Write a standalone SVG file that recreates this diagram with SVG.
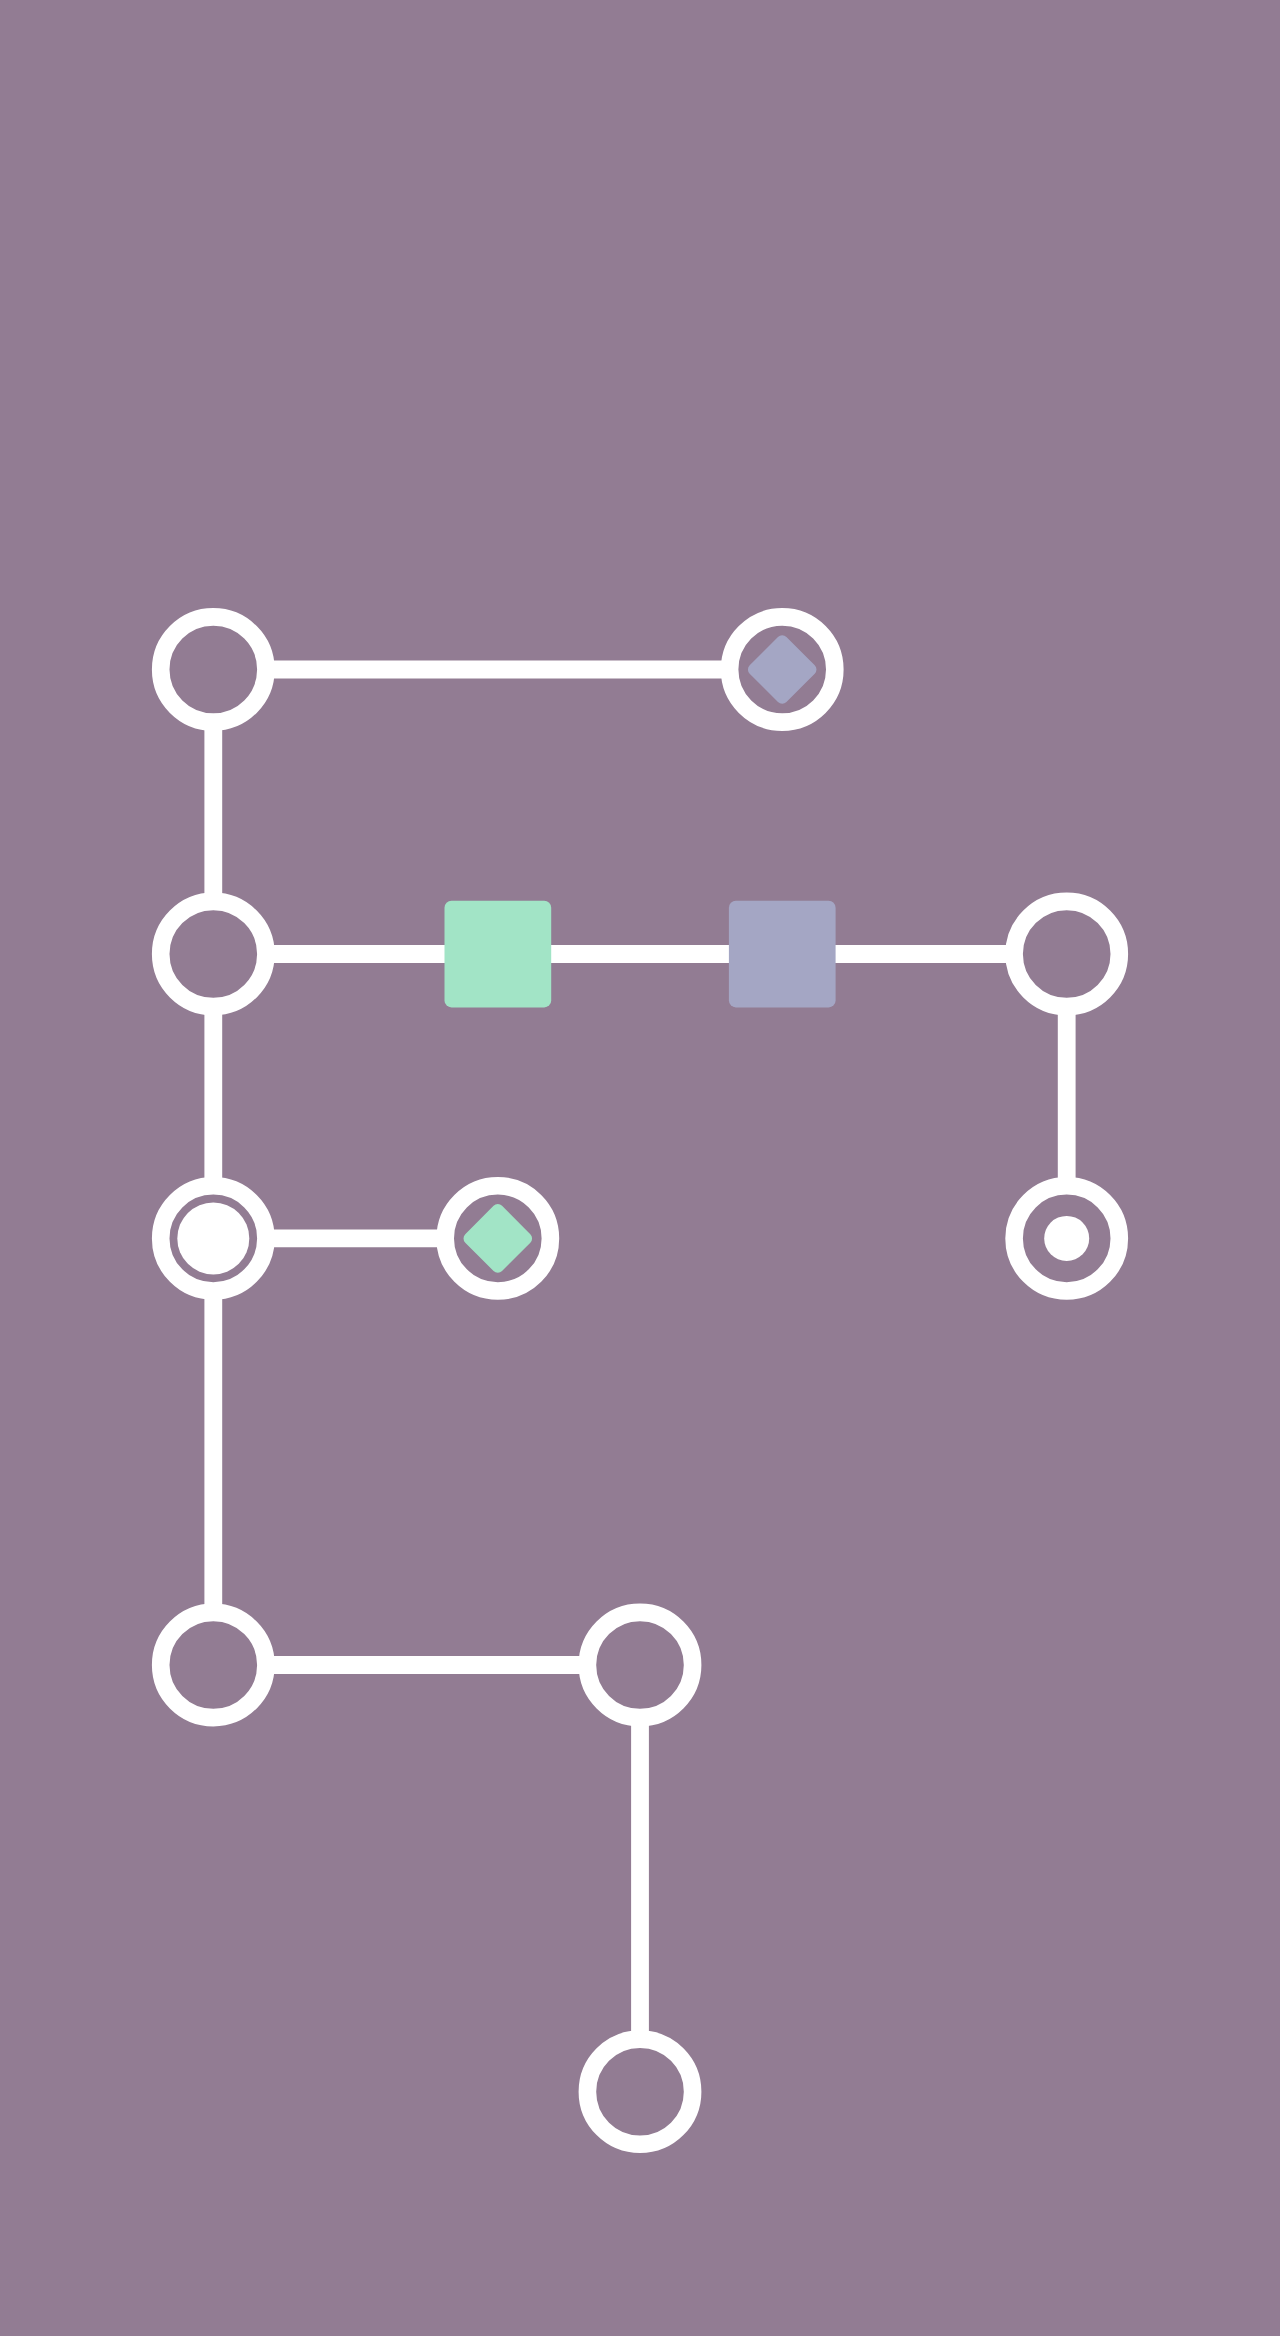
<svg xmlns="http://www.w3.org/2000/svg" width="1280" height="2336" viewBox="0 0 1280 2336">
  <style>
    .edge { stroke: #FFFFFF; stroke-width: 17.8; fill: none; stroke-linecap: butt; }
    .ring { stroke: #FFFFFF; stroke-width: 17.6; fill: #927C93; }
    .dot { fill: #FFFFFF; }
    .green { fill: #A2E4C6; }
    .lav { fill: #A4A6C4; }
  </style>
  <rect x="0" y="0" width="1280" height="2336" fill="#927C93"/>
  <g id="connectors">
    <line class="edge" x1="213.3" y1="669.5" x2="782.2" y2="669.5"/>
    <line class="edge" x1="213.3" y1="669.5" x2="213.3" y2="954"/>
    <line class="edge" x1="213.3" y1="954" x2="1066.7" y2="954"/>
    <line class="edge" x1="1066.7" y1="954" x2="1066.7" y2="1238.4"/>
    <line class="edge" x1="213.3" y1="954" x2="213.3" y2="1238.4"/>
    <line class="edge" x1="213.3" y1="1238.4" x2="497.8" y2="1238.4"/>
    <line class="edge" x1="213.3" y1="1238.4" x2="213.3" y2="1665"/>
    <line class="edge" x1="213.3" y1="1665" x2="640" y2="1665"/>
    <line class="edge" x1="640" y1="1665" x2="640" y2="2091.7"/>
  </g>
  <g id="n-r0c0"><circle class="ring" cx="213.3" cy="669.5" r="52.6"/></g>
  <g id="n-r0c2">
    <circle class="ring" cx="782.2" cy="669.5" r="52.6"/>
    <rect class="lav" x="756.2" y="643.5" width="52" height="52" rx="6" transform="rotate(45 782.2 669.5)"/>
  </g>
  <g id="n-r1c0"><circle class="ring" cx="213.3" cy="954" r="52.6"/></g>
  <g id="n-r1c1"><rect class="green" x="444.5" y="900.7" width="106.7" height="106.7" rx="7"/></g>
  <g id="n-r1c2"><rect class="lav" x="728.9" y="900.7" width="106.7" height="106.7" rx="7"/></g>
  <g id="n-r1c3"><circle class="ring" cx="1066.7" cy="954" r="52.6"/></g>
  <g id="n-r2c0">
    <circle class="ring" cx="213.3" cy="1238.4" r="52.6"/>
    <circle class="dot" cx="213.3" cy="1238.4" r="36"/>
  </g>
  <g id="n-r2c1">
    <circle class="ring" cx="497.8" cy="1238.4" r="52.6"/>
    <rect class="green" x="471.8" y="1212.4" width="52" height="52" rx="6" transform="rotate(45 497.8 1238.4)"/>
  </g>
  <g id="n-r2c3">
    <circle class="ring" cx="1066.7" cy="1238.4" r="52.6"/>
    <circle class="dot" cx="1066.7" cy="1238.4" r="22.5"/>
  </g>
  <g id="n-r3c0"><circle class="ring" cx="213.3" cy="1665" r="52.6"/></g>
  <g id="n-r3c1"><circle class="ring" cx="640" cy="1665" r="52.6"/></g>
  <g id="n-r4c1"><circle class="ring" cx="640" cy="2091.7" r="52.6"/></g>
</svg>
